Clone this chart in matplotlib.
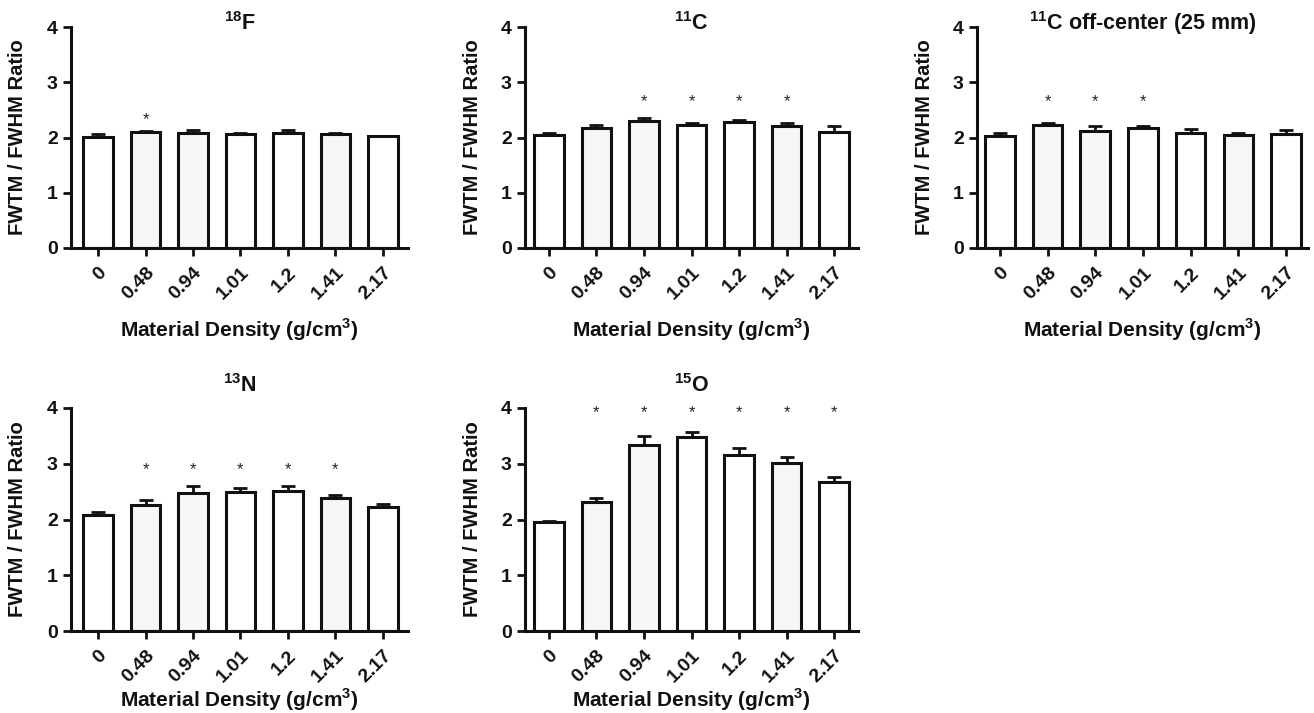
import matplotlib
matplotlib.use("Agg")
import matplotlib.pyplot as plt
import matplotlib.transforms as mtransforms
import numpy as np

plt.rcParams['font.family'] = ['Liberation Sans', 'DejaVu Sans']
plt.rcParams['font.weight'] = 'bold'
plt.rcParams['mathtext.fontset'] = 'custom'
plt.rcParams['mathtext.rm'] = 'Liberation Sans'
plt.rcParams['mathtext.bf'] = 'Liberation Sans:bold'

categories = ["0", "0.48", "0.94", "1.01", "1.2", "1.41", "2.17"]

titles = [r"$^{\mathbf{18}}$F", r"$^{\mathbf{11}}$C",
          r"$^{\mathbf{11}}$C off-center (25 mm)",
          r"$^{\mathbf{13}}$N", r"$^{\mathbf{15}}$O"]

f18_mean = [2.01, 2.105, 2.09, 2.06, 2.09, 2.06, 2.03]
f18_top = [2.06, 2.12, 2.135, 2.09, 2.13, 2.09, 2.035]
f18_star = [False, True, False, False, False, False, False]

c11_mean = [2.045, 2.165, 2.30, 2.225, 2.285, 2.21, 2.10]
c11_top = [2.09, 2.225, 2.345, 2.255, 2.315, 2.255, 2.21]
c11_star = [False, False, True, True, True, True, False]

c11off_mean = [2.03, 2.225, 2.12, 2.165, 2.09, 2.045, 2.06]
c11off_top = [2.075, 2.27, 2.21, 2.21, 2.155, 2.075, 2.135]
c11off_star = [False, True, True, True, False, False, False]

n13_mean = [2.087, 2.267, 2.483, 2.49, 2.52, 2.387, 2.22]
n13_top = [2.135, 2.357, 2.597, 2.56, 2.60, 2.44, 2.285]
n13_star = [False, True, True, True, True, True, False]

o15_mean = [1.95, 2.32, 3.33, 3.48, 3.15, 3.02, 2.67]
o15_top = [1.97, 2.385, 3.50, 3.57, 3.28, 3.13, 2.77]
o15_star = [False, True, True, True, True, True, True]

star_levels = [2.33, 2.65, 2.65, 2.89, 3.91]

means = [f18_mean, c11_mean, c11off_mean, n13_mean, o15_mean]
tops = [f18_top, c11_top, c11off_top, n13_top, o15_top]
stars = [f18_star, c11_star, c11off_star, n13_star, o15_star]

bar_fill = ['white', '#f6f6f6', '#f8f8f8', 'white', 'white', '#f6f6f6', 'white']

W, H = 1314, 713
fig = plt.figure(figsize=(W / 100, H / 100), dpi=100)

# pixel boxes: left, right, top, bottom
boxes = [(71, 408, 27, 248), (525, 858, 27, 248), (977, 1308, 27, 248),
         (71, 408, 408, 631), (525, 858, 408, 631)]
xlims = [(-0.57, 6.53), (-0.5, 6.5), (-0.48, 6.46), (-0.57, 6.53), (-0.5, 6.5)]
title_off = [-3, -3, -3, 16, 16]   # pixels of baseline above axes top
xlabel_y = [-0.40, -0.40, -0.40, -0.34, -0.34]

for i in range(5):
    l, r, t, b = boxes[i]
    ax = fig.add_axes([l / W, (H - b) / H, (r - l) / W, (b - t) / H])
    x = np.arange(len(categories))
    m = np.array(means[i])
    tp = np.array(tops[i])
    ax.bar(x, m, width=0.62, color=bar_fill, edgecolor='#111111', linewidth=2.2, zorder=2)
    ax.errorbar(x, m, yerr=[np.zeros_like(m), tp - m], fmt='none', ecolor='#111111',
                elinewidth=2.0, capsize=5, capthick=2.0, zorder=3)
    for j, s in enumerate(stars[i]):
        if s:
            ax.text(x[j], star_levels[i], '*', ha='center', va='center', fontsize=12,
                    fontweight='normal', color='#222222')
    ax.set_xlim(*xlims[i])
    ax.set_ylim(0, 4)
    ax.set_yticks([0, 1, 2, 3, 4])
    ax.set_xticks(x)
    for sp in ['top', 'right']:
        ax.spines[sp].set_visible(False)
    for sp in ['left', 'bottom']:
        ax.spines[sp].set_linewidth(2.2)
        ax.spines[sp].set_color('#111111')
    ax.tick_params(axis='both', length=5.5, width=2.0, color='#111111', labelsize=14,
                   labelcolor='#111111')
    ax.tick_params(axis='y', pad=4)
    ax.tick_params(axis='x', pad=4)
    ax.set_xticklabels(categories, rotation=45, ha='right', va='center',
                       rotation_mode='anchor')
    shift = mtransforms.ScaledTranslation(6 / 100, -9 / 100, fig.dpi_scale_trans)
    for tick in ax.xaxis.get_major_ticks():
        tick.label1.set_transform(tick.label1.get_transform() + shift)
    ax.set_ylabel('FWTM / FWHM Ratio', fontsize=14.5, fontweight='bold', color='#111111')
    ax.yaxis.set_label_coords(-0.13, 0.5)
    ax.set_xlabel('Material Density (g/cm$^{3}$)', fontsize=15, fontweight='bold',
                  color='#111111', va='baseline')
    ax.xaxis.set_label_coords(0.5, xlabel_y[i])
    toff = mtransforms.ScaledTranslation(0, title_off[i] / 100, fig.dpi_scale_trans)
    ax.text(0.5, 1.0, titles[i], transform=ax.transAxes + toff, ha='center',
            va='baseline', fontsize=15.5, fontweight='bold', color='#111111')

fig.savefig('out.png', dpi=100)
